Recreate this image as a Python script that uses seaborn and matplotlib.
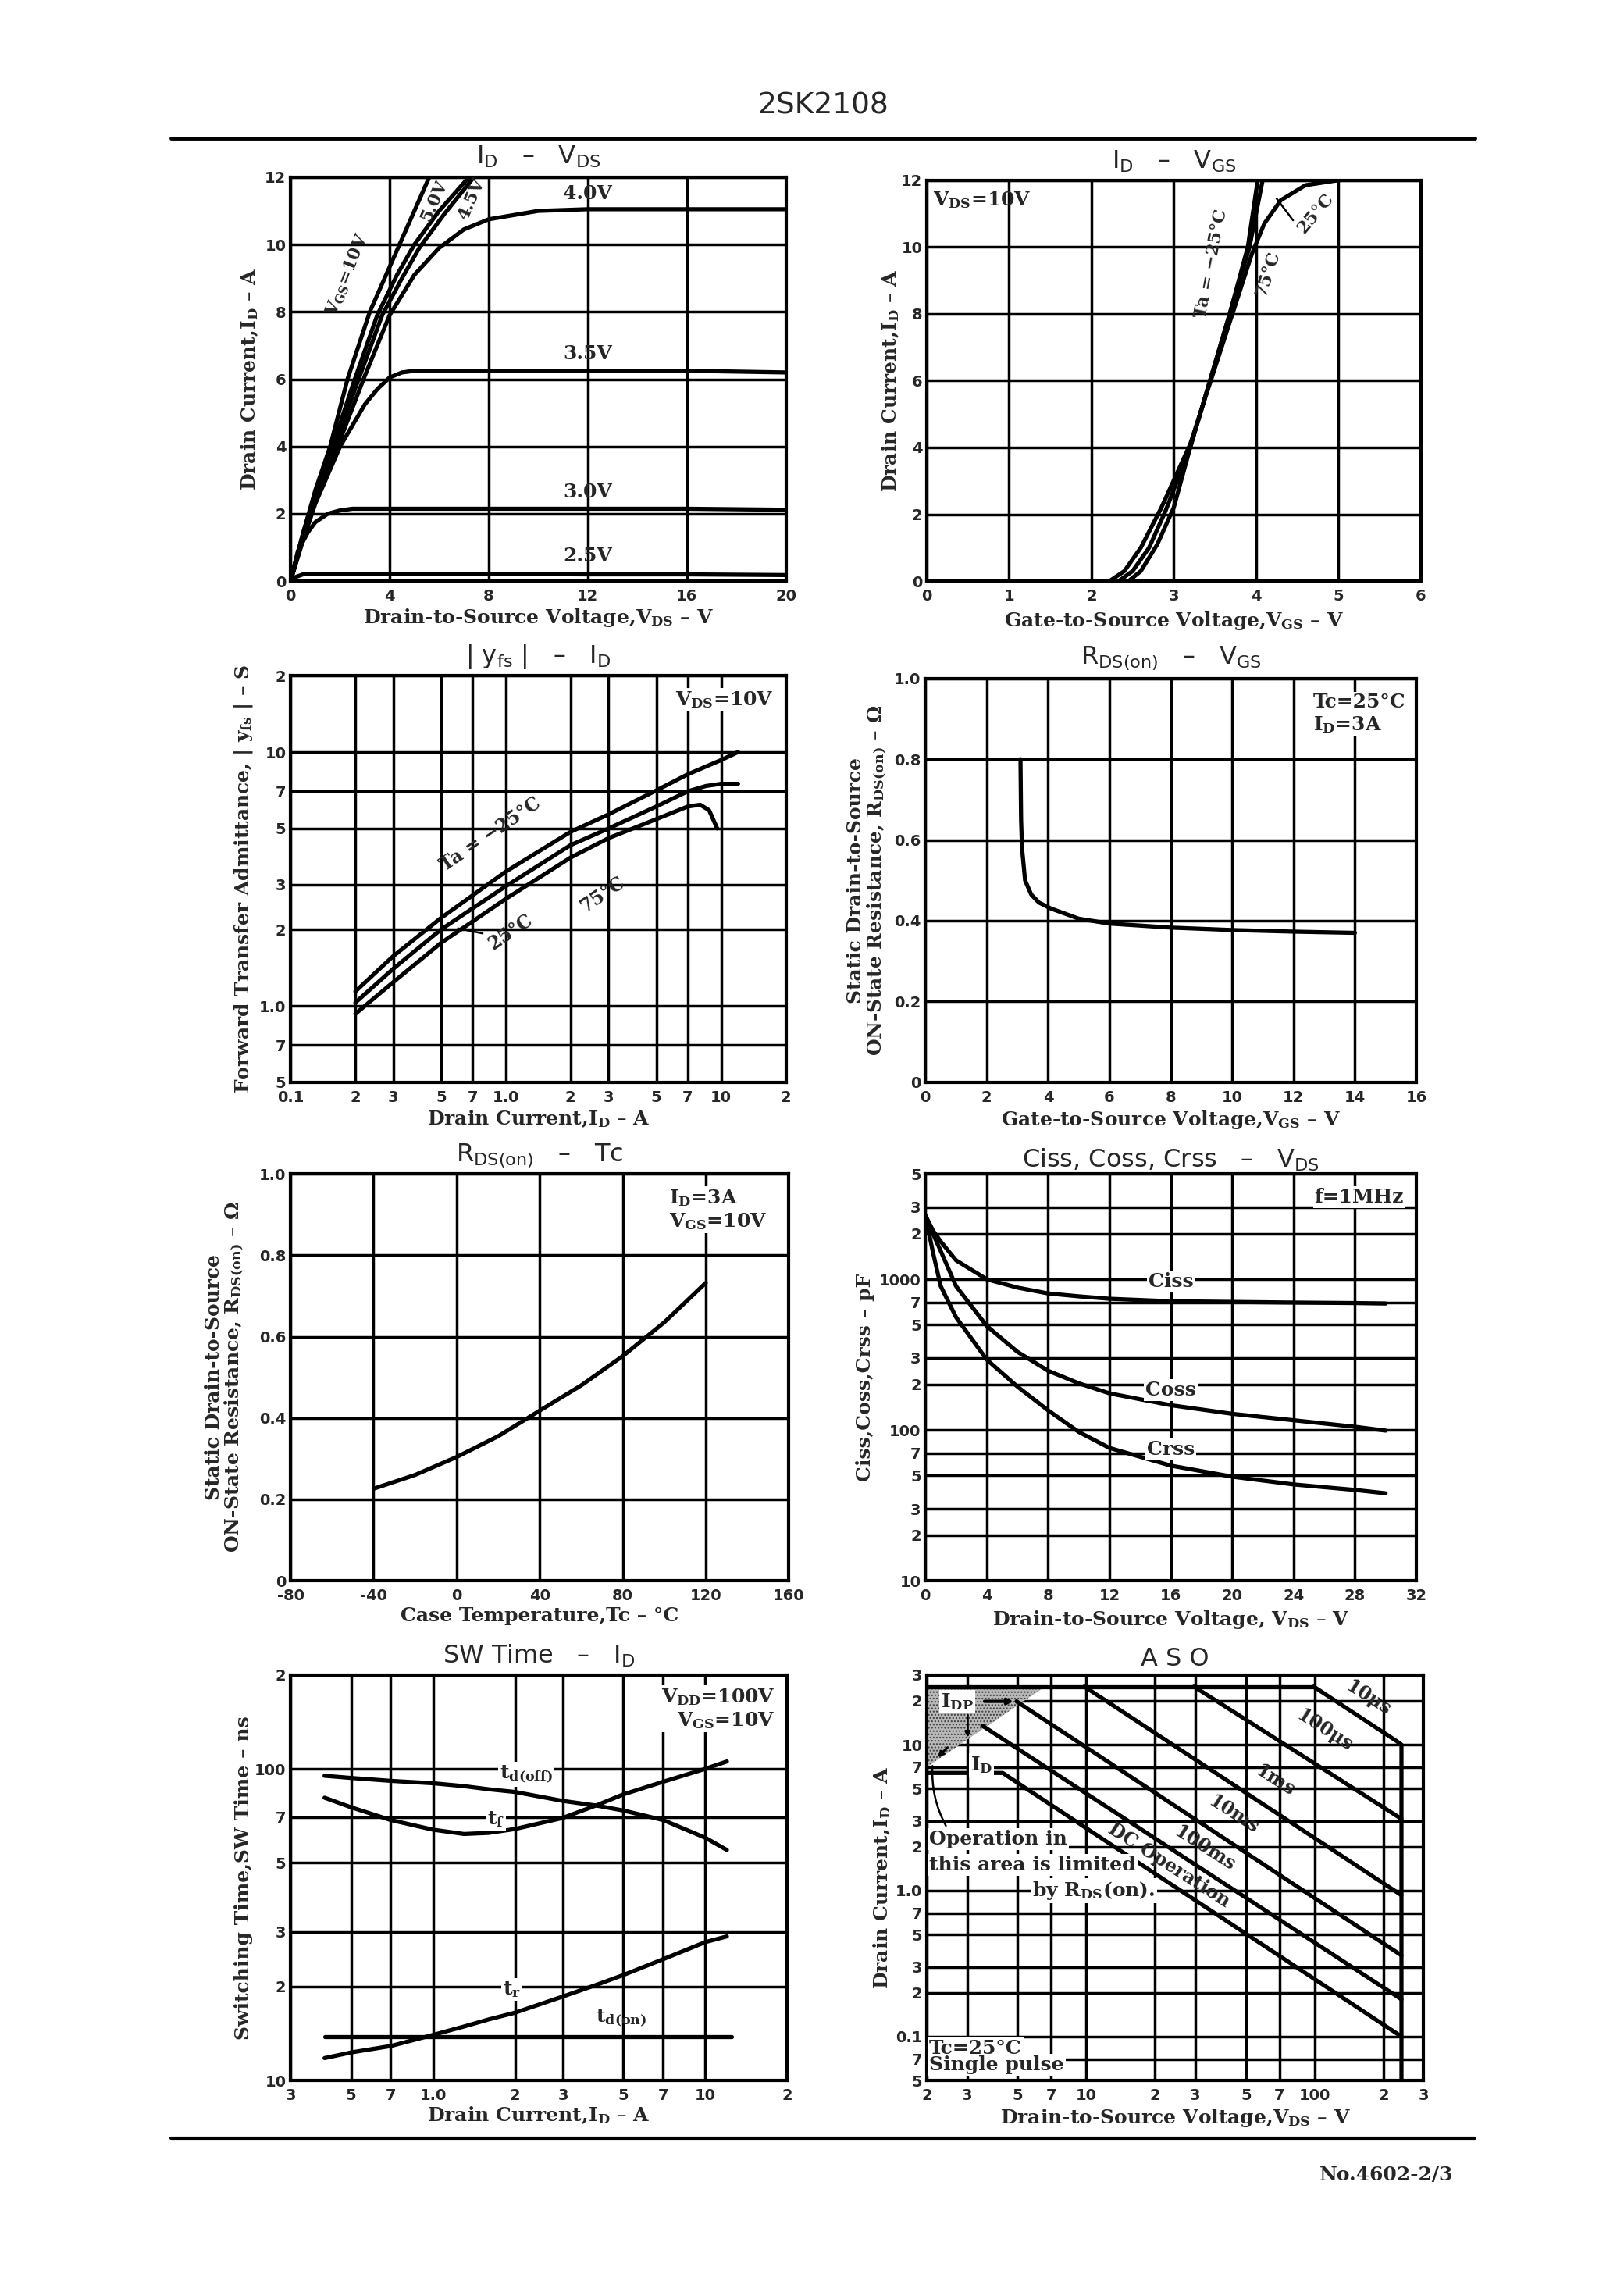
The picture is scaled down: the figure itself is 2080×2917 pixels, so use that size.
import matplotlib
matplotlib.use("Agg")
import matplotlib.pyplot as plt
from matplotlib.lines import Line2D
from matplotlib.patches import Polygon
from matplotlib.ticker import FixedLocator, NullLocator, FixedFormatter
import numpy as np
import seaborn as sns

# ---------------- data ----------------

# ID - VDS (one curve per VGS)
vds_10v = [0, 0.5, 1.0, 1.6, 2.3, 3.2, 3.8, 4.4, 5.0, 5.6]
id_10v = [0, 1.4, 2.7, 4.0, 6.0, 8.0, 9.0, 10.0, 11.0, 12.0]
vds_5v = [0, 0.5, 1.0, 1.7, 2.5, 3.5, 4.3, 5.0, 6.0, 7.2]
id_5v = [0, 1.4, 2.6, 4.0, 5.8, 7.9, 9.1, 10.0, 11.0, 12.0]
vds_45v = [0, 0.5, 1.0, 1.8, 2.6, 3.7, 4.5, 5.2, 6.2, 7.4]
id_45v = [0, 1.4, 2.6, 4.0, 5.7, 7.9, 9.0, 9.9, 10.9, 12.0]
vds_4v = [0, 0.5, 1.0, 1.9, 3.0, 4.0, 5.0, 6.0, 7.0, 8.0, 10, 12, 16, 20]
id_4v = [0, 1.3, 2.4, 4.0, 6.1, 7.9, 9.1, 9.9, 10.45, 10.75, 11.0, 11.05, 11.05, 11.05]
vds_35v = [0, 0.5, 1.0, 2.0, 3.0, 3.5, 4.0, 4.5, 5.0, 8, 12, 16, 20]
id_35v = [0, 1.2, 2.3, 4.0, 5.25, 5.7, 6.05, 6.2, 6.25, 6.25, 6.25, 6.25, 6.2]
vds_3v = [0, 0.3, 0.7, 1.0, 1.5, 2.0, 2.5, 4, 8, 12, 16, 20]
id_3v = [0, 0.9, 1.45, 1.75, 2.0, 2.1, 2.15, 2.15, 2.15, 2.15, 2.15, 2.12]
vds_25v = [0, 0.2, 0.5, 1, 4, 8, 12, 16, 20]
id_25v = [0, 0.12, 0.2, 0.22, 0.22, 0.22, 0.2, 0.2, 0.18]

# ID - VGS (VDS = 10V)
vgs_m25 = [0, 2.45, 2.6, 2.8, 3.0, 3.2, 3.44, 3.68, 3.9, 4.02]
idg_m25 = [0, 0, 0.3, 1.1, 2.2, 4.0, 6.0, 8.0, 10.0, 12.0]
vgs_25 = [0, 2.33, 2.5, 2.7, 2.9, 3.2, 3.44, 3.68, 3.92, 4.08]
idg_25 = [0, 0, 0.3, 1.0, 2.1, 4.0, 6.0, 8.0, 10.0, 12.0]
vgs_75 = [0, 2.22, 2.4, 2.6, 2.85, 3.2, 3.45, 3.7, 3.95, 4.1, 4.3, 4.6, 5.0]
idg_75 = [0, 0, 0.3, 1.0, 2.2, 4.1, 6.0, 7.9, 9.8, 10.7, 11.4, 11.85, 12.0]

# |yfs| - ID
yfs_id = [0.2, 0.3, 0.5, 1.0, 2.0, 3.0, 5.0, 7.0, 10.0, 12.0]
yfs_m25 = [1.14, 1.57, 2.22, 3.38, 4.85, 5.68, 7.06, 8.17, 9.3, 10.0]
yfs_25_id = [0.2, 0.3, 0.5, 1.0, 2.0, 3.0, 5.0, 7.0, 8.5, 10.0, 12.0]
yfs_25 = [1.03, 1.40, 2.0, 2.96, 4.3, 5.0, 6.1, 7.0, 7.35, 7.5, 7.5]
yfs_75_id = [0.2, 0.3, 0.5, 1.0, 2.0, 3.0, 5.0, 7.0, 8.0, 8.8, 9.6]
yfs_75 = [0.93, 1.24, 1.77, 2.64, 3.84, 4.58, 5.44, 6.1, 6.2, 5.9, 5.0]

# RDS(on) - VGS
rv_vgs = [3.1, 3.12, 3.15, 3.25, 3.45, 3.7, 4.1, 5.0, 6.0, 8.0, 10.0, 12.0, 14.0]
rv_r = [0.8, 0.65, 0.58, 0.5, 0.465, 0.445, 0.43, 0.405, 0.393, 0.383, 0.377, 0.373, 0.37]

# RDS(on) - Tc
rt_tc = [-40, -20, 0, 20, 40, 60, 80, 100, 120]
rt_r = [0.226, 0.26, 0.304, 0.355, 0.418, 0.48, 0.552, 0.635, 0.732]

# Ciss, Coss, Crss - VDS
cap_vds = [0, 0.5, 1, 2, 4, 6, 8, 10, 12, 16, 20, 24, 28, 30]
ciss = [2650, 2100, 1780, 1335, 1000, 880, 805, 770, 742, 714, 707, 700, 695, 690]
coss = [2650, 2000, 1540, 900, 490, 330, 247, 204, 175, 146, 128, 116, 105, 99]
crss = [2650, 1500, 900, 560, 293, 194, 135, 97, 76, 58, 49, 43.5, 40, 38]

# Switching time - ID
sw_id = [0.4, 0.5, 0.7, 1.0, 1.3, 1.6, 2.0, 3.0, 4.0, 5.0, 7.0, 10.0, 12.0]
t_doff = [95, 93.5, 91.5, 89.9, 88, 86, 84.3, 78.9, 76.2, 73.5, 68.5, 60.1, 54.9]
t_f = [80.8, 75.3, 68.5, 63.8, 61.8, 62.3, 64.1, 69.6, 76.5, 82.8, 90.9, 100, 105.6]
t_r = [11.8, 12.3, 12.9, 14.0, 14.9, 15.7, 16.5, 18.6, 20.3, 21.8, 24.5, 27.8, 29.0]
t_don_id = [0.4, 12.5]
t_don = [13.8, 13.8]

# ASO (Tc = 25C, single pulse)
aso_idp_v = [2, 99]
aso_idp_i = [25, 25]
aso_10us_v = [99, 228, 240, 240]
aso_10us_i = [25, 10.6, 10, 0.05]
aso_100us_v = [29.6, 240]
aso_100us_i = [25, 3.1]
aso_1ms_v = [9.8, 240]
aso_1ms_i = [25, 0.93]
aso_10ms_v = [4.94, 240]
aso_10ms_i = [19.8, 0.36]
aso_100ms_v = [3.5, 240]
aso_100ms_i = [13.5, 0.18]
aso_dc_v = [2, 4.3, 240]
aso_dc_i = [6.4, 6.4, 0.1]

# ---------------- drawing ----------------
sns.set_style("white")
plt.rcParams["font.family"] = ["DejaVu Sans"]
plt.rcParams["mathtext.default"] = "regular"

SERIF = ["DejaVu Serif"]

fig = plt.figure(figsize=(20.8, 29.17), dpi=100)


def curve(ax, x, y, lw=3.8):
    sns.lineplot(x=x, y=y, ax=ax, color="black", linewidth=lw,
                 estimator=None, sort=False, legend=False)


def setup(ax, xlim, ylim, xt, yt, xtl, ytl):
    ax.set_xlim(xlim)
    ax.set_ylim(ylim)
    ax.xaxis.set_major_locator(FixedLocator(xt))
    ax.yaxis.set_major_locator(FixedLocator(yt))
    ax.xaxis.set_minor_locator(NullLocator())
    ax.yaxis.set_minor_locator(NullLocator())
    ax.xaxis.set_major_formatter(FixedFormatter(xtl))
    ax.yaxis.set_major_formatter(FixedFormatter(ytl))
    ax.grid(True, color="black", linewidth=2.5)
    ax.set_axisbelow(True)
    ax.tick_params(length=0, labelsize=14)
    ax.tick_params(axis="x", pad=7)
    ax.tick_params(axis="y", pad=4)
    plt.setp(ax.get_xticklabels(), fontweight="bold")
    plt.setp(ax.get_yticklabels(), fontweight="bold")
    for s in ax.spines.values():
        s.set_linewidth(3)
        s.set_color("black")


def labels(ax, title, xlabel, ylabel, tpos, xpos, ypos):
    ax.text(0.5, tpos, title, transform=ax.transAxes, ha="center", va="center", fontsize=23)
    ax.set_xlabel(xlabel, fontsize=18, family=SERIF, fontweight="bold")
    ax.xaxis.set_label_coords(0.5, xpos)
    ax.xaxis.label.set_va("center")
    ax.set_ylabel(ylabel, fontsize=18, family=SERIF, fontweight="bold", linespacing=1.0)
    ax.yaxis.set_label_coords(ypos, 0.5)
    ax.yaxis.label.set_va("center")


def note(ax, x, y, s, size=18, bg=False, **kw):
    box = dict(fc="white", ec="none", pad=1.5) if bg else None
    ax.text(x, y, s, fontsize=size, family=SERIF, fontweight="bold", bbox=box, zorder=4, **kw)


def angle(ax, p0, p1):
    a = ax.transData.transform(p0)
    b = ax.transData.transform(p1)
    return np.degrees(np.arctan2(b[1] - a[1], b[0] - a[0]))


# ---- 1: ID - VDS ----
ax1 = fig.add_axes([0.1789, 0.7449, 0.3050, 0.1773])
for x, y in [(vds_10v, id_10v), (vds_5v, id_5v), (vds_45v, id_45v), (vds_4v, id_4v),
             (vds_35v, id_35v), (vds_3v, id_3v), (vds_25v, id_25v)]:
    curve(ax1, x, y)
setup(ax1, (0, 20), (0, 12), [0, 4, 8, 12, 16, 20], [0, 2, 4, 6, 8, 10, 12],
      ["0", "4", "8", "12", "16", "20"], ["0", "2", "4", "6", "8", "10", "12"])
labels(ax1, "I$_D$   –   V$_{DS}$", "Drain-to-Source Voltage,V$_{DS}$ – V",
       "Drain Current,I$_D$ – A", 1.05, -0.09, -0.082)
note(ax1, 2.3, 9.1, "V$_{GS}$=10V", size=16, rotation=68, ha="center", va="center")
note(ax1, 5.8, 11.3, "5.0V", size=16, rotation=66, ha="center", va="center")
note(ax1, 7.3, 11.35, "4.5V", size=16, rotation=66, ha="center", va="center")
note(ax1, 12, 11.5, "4.0V", ha="center", va="center")
note(ax1, 12, 6.75, "3.5V", ha="center", va="center")
note(ax1, 12, 2.65, "3.0V", ha="center", va="center")
note(ax1, 12, 0.75, "2.5V", ha="center", va="center")

# ---- 2: ID - VGS ----
ax2 = fig.add_axes([0.5707, 0.7449, 0.3041, 0.1760])
for x, y in [(vgs_m25, idg_m25), (vgs_25, idg_25), (vgs_75, idg_75)]:
    curve(ax2, x, y)
setup(ax2, (0, 6), (0, 12), [0, 1, 2, 3, 4, 5, 6], [0, 2, 4, 6, 8, 10, 12],
      ["0", "1", "2", "3", "4", "5", "6"], ["0", "2", "4", "6", "8", "10", "12"])
labels(ax2, "I$_D$   –   V$_{GS}$", "Gate-to-Source Voltage,V$_{GS}$ – V",
       "Drain Current,I$_D$ – A", 1.047, -0.1, -0.074)
note(ax2, 0.08, 11.4, "V$_{DS}$=10V", ha="left", va="center")
note(ax2, 3.46, 9.5, "Ta = −25°C", size=16, rotation=79, ha="center", va="center")
note(ax2, 4.14, 9.2, "75°C", size=16, rotation=72, ha="center", va="center")
note(ax2, 4.72, 11.0, "25°C", size=16, rotation=50, ha="center", va="center")
ax2.plot([4.25, 4.45], [11.45, 10.8], color="black", lw=1.8)

# ---- 3: |yfs| - ID ----
ax3 = fig.add_axes([0.1789, 0.5249, 0.3050, 0.1785])
ax3.set_xscale("log")
ax3.set_yscale("log")
for x, y in [(yfs_id, yfs_m25), (yfs_25_id, yfs_25), (yfs_75_id, yfs_75)]:
    curve(ax3, x, y)
setup(ax3, (0.1, 20), (0.5, 20),
      [0.1, 0.2, 0.3, 0.5, 0.7, 1, 2, 3, 5, 7, 10, 20],
      [0.5, 0.7, 1, 2, 3, 5, 7, 10, 20],
      ["0.1", "2", "3", "5", "7", "1.0", "2", "3", "5", "7", "10", "2"],
      ["5", "7", "1.0", "2", "3", "5", "7", "10", "2"])
labels(ax3, "| y$_{fs}$ |   –   I$_D$", "Drain Current,I$_D$ – A",
       "Forward Transfer Admittance, | y$_{fs}$ | – S", 1.046, -0.089, -0.094)
note(ax3, 0.975, 0.965, "V$_{DS}$=10V", bg=True, ha="right", va="top", transform=ax3.transAxes)
note(ax3, 0.85, 4.75, "Ta = −25°C", size=17, rotation=34, ha="center", va="center")
note(ax3, 2.8, 2.75, "75°C", size=17, rotation=34, ha="center", va="center")
note(ax3, 1.05, 1.95, "25°C", size=17, rotation=34, ha="center", va="center")
ax3.plot([0.6, 0.78], [2.02, 1.93], color="black", lw=1.8)

# ---- 4: RDS(on) - VGS ----
ax4 = fig.add_axes([0.5698, 0.5249, 0.3023, 0.1773])
curve(ax4, rv_vgs, rv_r)
setup(ax4, (0, 16), (0, 1.0), list(range(0, 17, 2)), [0, 0.2, 0.4, 0.6, 0.8, 1.0],
      [str(v) for v in range(0, 17, 2)], ["0", "0.2", "0.4", "0.6", "0.8", "1.0"])
labels(ax4, "R$_{DS(on)}$   –   V$_{GS}$", "Gate-to-Source Voltage,V$_{GS}$ – V",
       "Static Drain-to-Source\nON-State Resistance, R$_{DS(on)}$ – Ω", 1.05, -0.093, -0.118)
note(ax4, 0.79, 0.965, "Tc=25°C\nI$_D$=3A", bg=True, ha="left", va="top", transform=ax4.transAxes)

# ---- 5: RDS(on) - Tc ----
ax5 = fig.add_axes([0.1789, 0.3061, 0.3068, 0.1786])
curve(ax5, rt_tc, rt_r)
setup(ax5, (-80, 160), (0, 1.0), list(range(-80, 161, 40)), [0, 0.2, 0.4, 0.6, 0.8, 1.0],
      [str(v) for v in range(-80, 161, 40)], ["0", "0.2", "0.4", "0.6", "0.8", "1.0"])
labels(ax5, "R$_{DS(on)}$   –   Tc", "Case Temperature,Tc – °C",
       "Static Drain-to-Source\nON-State Resistance, R$_{DS(on)}$ – Ω", 1.046, -0.086, -0.131)
note(ax5, 0.76, 0.965, "I$_D$=3A\nV$_{GS}$=10V", bg=True, ha="left", va="top", transform=ax5.transAxes)

# ---- 6: Ciss, Coss, Crss - VDS ----
ax6 = fig.add_axes([0.5698, 0.3061, 0.3023, 0.1786])
ax6.set_yscale("log")
for y in [ciss, coss, crss]:
    curve(ax6, cap_vds, y)
setup(ax6, (0, 32), (10, 5000), list(range(0, 33, 4)),
      [10, 20, 30, 50, 70, 100, 200, 300, 500, 700, 1000, 2000, 3000, 5000],
      [str(v) for v in range(0, 33, 4)],
      ["10", "2", "3", "5", "7", "100", "2", "3", "5", "7", "1000", "2", "3", "5"])
labels(ax6, "Ciss, Coss, Crss   –   V$_{DS}$", "Drain-to-Source Voltage, V$_{DS}$ – V",
       "Ciss,Coss,Crss – pF", 1.035, -0.096, -0.122)
note(ax6, 0.975, 0.965, "f=1MHz", bg=True, ha="right", va="top", transform=ax6.transAxes)
note(ax6, 16, 960, "Ciss", bg=True, ha="center", va="center")
note(ax6, 16, 185, "Coss", bg=True, ha="center", va="center")
note(ax6, 16, 74, "Crss", bg=True, ha="center", va="center")

# ---- 7: SW time - ID ----
ax7 = fig.add_axes([0.1789, 0.0867, 0.3059, 0.1780])
ax7.set_xscale("log")
ax7.set_yscale("log")
for y in [t_doff, t_f, t_r]:
    curve(ax7, sw_id, y)
curve(ax7, t_don_id, t_don)
setup(ax7, (0.3, 20), (10, 200), [0.3, 0.5, 0.7, 1, 2, 3, 5, 7, 10, 20],
      [10, 20, 30, 50, 70, 100, 200],
      ["3", "5", "7", "1.0", "2", "3", "5", "7", "10", "2"],
      ["10", "2", "3", "5", "7", "100", "2"])
labels(ax7, "SW Time   –   I$_D$", "Drain Current,I$_D$ – A",
       "Switching Time,SW Time – ns", 1.047, -0.086, -0.094)
note(ax7, 0.975, 0.97, "V$_{DD}$=100V\nV$_{GS}$=10V", bg=True, ha="right", va="top",
     transform=ax7.transAxes)
note(ax7, 2.2, 96, "t$_{d(off)}$", bg=True, ha="center", va="center")
note(ax7, 1.7, 69, "t$_f$", bg=True, ha="center", va="center")
note(ax7, 1.95, 19.6, "t$_r$", bg=True, ha="center", va="center")
note(ax7, 4.9, 15.8, "t$_{d(on)}$", ha="center", va="center")

# ---- 8: ASO ----
ax8 = fig.add_axes([0.5707, 0.0867, 0.3059, 0.1780])
ax8.set_xscale("log")
ax8.set_yscale("log")
setup(ax8, (2, 300), (0.05, 30), [2, 3, 5, 7, 10, 20, 30, 50, 70, 100, 200, 300],
      [0.05, 0.07, 0.1, 0.2, 0.3, 0.5, 0.7, 1, 2, 3, 5, 7, 10, 20, 30],
      ["2", "3", "5", "7", "10", "2", "3", "5", "7", "100", "2", "3"],
      ["5", "7", "0.1", "2", "3", "5", "7", "1.0", "2", "3", "5", "7", "10", "2", "3"])
ax8.add_patch(Polygon([(2, 25), (6.6, 25), (2.05, 7.2), (2, 7.2)], closed=True,
                      fc="0.72", ec="0.25", lw=0, hatch="....", zorder=1.5))
for x, y in [(aso_idp_v, aso_idp_i), (aso_10us_v, aso_10us_i), (aso_100us_v, aso_100us_i),
             (aso_1ms_v, aso_1ms_i), (aso_10ms_v, aso_10ms_i), (aso_100ms_v, aso_100ms_i),
             (aso_dc_v, aso_dc_i)]:
    curve(ax8, x, y)
labels(ax8, "A S O", "Drain-to-Source Voltage,V$_{DS}$ – V",
       "Drain Current,I$_D$ – A", 1.04, -0.093, -0.09)
rot = angle(ax8, (10, 10), (100, 1))
note(ax8, 172, 21, "10μs", size=17, rotation=rot, ha="center", va="center")
note(ax8, 110, 12.5, "100μs", size=17, rotation=rot, ha="center", va="center")
note(ax8, 67, 5.7, "1ms", size=17, rotation=rot, ha="center", va="center")
note(ax8, 44, 3.35, "10ms", size=17, rotation=rot, ha="center", va="center")
note(ax8, 33, 1.95, "100ms", size=17, rotation=rot, ha="center", va="center")
note(ax8, 23, 1.5, "DC Operation", size=17, rotation=rot, ha="center", va="center")
note(ax8, 2.3, 19.8, "I$_{DP}$", bg=True, ha="left", va="center")
note(ax8, 3.1, 7.3, "I$_D$", bg=True, ha="left", va="center")
note(ax8, 2.05, 2.25, "Operation in", bg=True, ha="left", va="center")
note(ax8, 2.05, 1.5, "this area is limited", bg=True, ha="left", va="center")
note(ax8, 5.8, 1.0, "by R$_{DS}$(on).", bg=True, ha="left", va="center")
note(ax8, 2.05, 0.083, "Tc=25°C", bg=True, ha="left", va="center")
note(ax8, 2.05, 0.064, "Single pulse", bg=True, ha="left", va="center")
ax8.annotate("", xy=(4.9, 19.8), xytext=(3.5, 19.8),
             arrowprops=dict(arrowstyle="-|>", lw=3, color="black"))
ax8.annotate("", xy=(3.02, 10.8), xytext=(3.02, 16.5),
             arrowprops=dict(arrowstyle="-|>", lw=2, color="black"))
ax8.annotate("", xy=(2.2, 8.0), xytext=(2.5, 9.8),
             arrowprops=dict(arrowstyle="-|>", lw=2, color="black"))
ax8.annotate("", xy=(2.12, 7.4), xytext=(2.45, 2.7),
             arrowprops=dict(arrowstyle="-", lw=1.8, color="black",
                             connectionstyle="arc3,rad=-0.15"))

# ---- page header / footer ----
fig.text(0.507, 0.9534, "2SK2108", ha="center", va="center", fontsize=27)
fig.add_artist(Line2D([0.1055, 0.908], [0.9394, 0.9394], color="black", lw=3.5))
fig.add_artist(Line2D([0.1055, 0.908], [0.0612, 0.0612], color="black", lw=3))
fig.text(0.895, 0.0453, "No.4602-2/3", ha="right", va="center", fontsize=18,
         family=SERIF, fontweight="bold")

fig.savefig("out.png", dpi=100, facecolor="white")
